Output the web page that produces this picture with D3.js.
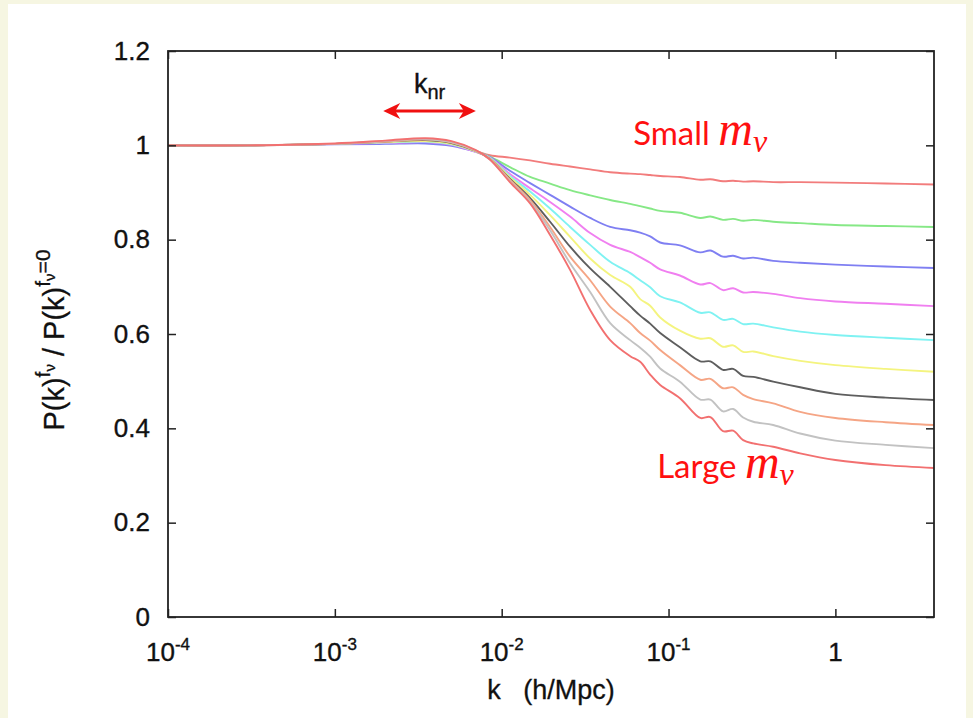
<!DOCTYPE html>
<html>
<head>
<meta charset="utf-8">
<script src="https://cdn.jsdelivr.net/npm/d3@7"></script>
<style>
  body { margin: 0; background: #f6f6e2; }
  svg { display: block; }
  .tick text { font-family: "Liberation Sans", Arial, sans-serif; }
</style>
</head>
<body>
<svg width="973" height="718"></svg>
<script>
// wavenumbers k (h/Mpc) where the curves were read
const kValues = [1e-4, 3e-4, 1e-3, 2e-3, 3.5e-3, 5e-3, 7e-3, 8.5e-3, 0.0112, 0.0148,
  0.0195, 0.0257, 0.0339, 0.0447, 0.0589, 0.0676, 0.0776, 0.0891, 0.117, 0.155,
  0.178, 0.212, 0.244, 0.28, 0.322, 0.424, 0.615, 1, 2, 3.9]

// ratio P(k)^fnu / P(k)^fnu=0, small m_nu first
const ratioRed1 = [1.000,1.000,1.003,1.005,1.006,1.002,0.988,0.979,0.974,0.968,0.961,0.955,0.949,0.943,0.940,0.939,0.937,0.935,0.933,0.927,0.928,0.924,0.925,0.923,0.924,0.922,0.922,0.921,0.919,0.917]
const ratioGreen = [1.000,1.000,1.003,1.005,1.006,1.001,0.987,0.976,0.954,0.933,0.919,0.905,0.894,0.884,0.876,0.871,0.866,0.861,0.857,0.846,0.849,0.842,0.844,0.840,0.842,0.838,0.835,0.831,0.829,0.827]
const ratioBlue = [1.000,1.000,1.002,1.003,1.004,0.999,0.986,0.975,0.946,0.920,0.895,0.870,0.846,0.827,0.820,0.815,0.807,0.794,0.788,0.773,0.777,0.764,0.766,0.760,0.762,0.755,0.751,0.747,0.743,0.740]
const ratioMagenta = [1.000,1.000,1.003,1.005,1.007,1.001,0.986,0.974,0.939,0.909,0.880,0.849,0.814,0.789,0.774,0.763,0.751,0.737,0.724,0.705,0.708,0.693,0.697,0.688,0.689,0.685,0.676,0.669,0.664,0.659]
const ratioCyan = [1.000,1.000,1.003,1.006,1.008,1.002,0.987,0.973,0.935,0.902,0.866,0.827,0.789,0.753,0.729,0.714,0.699,0.680,0.667,0.645,0.646,0.630,0.632,0.621,0.622,0.614,0.605,0.598,0.592,0.587]
const ratioYellow = [1.000,1.000,1.003,1.007,1.009,1.003,0.987,0.972,0.932,0.895,0.852,0.806,0.760,0.725,0.700,0.674,0.660,0.635,0.607,0.590,0.591,0.573,0.576,0.562,0.563,0.553,0.543,0.534,0.526,0.520]
const ratioBlack = [1.000,1.000,1.003,1.008,1.011,1.005,0.988,0.971,0.929,0.888,0.838,0.785,0.739,0.700,0.659,0.639,0.622,0.602,0.572,0.542,0.542,0.524,0.526,0.511,0.509,0.499,0.487,0.473,0.465,0.460]
const ratioSalmon = [1.000,1.000,1.003,1.008,1.012,1.006,0.988,0.971,0.927,0.884,0.827,0.764,0.714,0.658,0.623,0.602,0.586,0.566,0.534,0.503,0.505,0.485,0.487,0.471,0.462,0.453,0.435,0.422,0.413,0.407]
const ratioGray = [1.000,1.000,1.003,1.009,1.013,1.007,0.989,0.970,0.924,0.880,0.820,0.750,0.689,0.623,0.587,0.571,0.552,0.527,0.499,0.461,0.461,0.436,0.441,0.423,0.414,0.407,0.389,0.374,0.365,0.358]
const ratioRed2 = [1.000,1.000,1.004,1.010,1.015,1.009,0.990,0.970,0.922,0.877,0.810,0.736,0.651,0.587,0.553,0.541,0.514,0.492,0.464,0.422,0.424,0.394,0.395,0.375,0.368,0.361,0.347,0.333,0.322,0.316]

const seriesList = [ratioRed1, ratioGreen, ratioBlue, ratioMagenta, ratioCyan,
  ratioYellow, ratioBlack, ratioSalmon, ratioGray, ratioRed2]
const seriesColors = ["#f27c7c", "#86e886", "#7f7ff2", "#f07ff0", "#7ff2f2",
  "#f4f47f", "#5e5e5e", "#f5a585", "#c2c2c2", "#f27070"]

const xTicks = [1e-4, 1e-3, 1e-2, 1e-1, 1]
const xTickExp = ["-4", "-3", "-2", "-1", ""]
const yTicks = [0, 0.2, 0.4, 0.6, 0.8, 1, 1.2]

const svg = d3.select("svg")
const font = '"Liberation Sans", Arial, sans-serif'

svg.append("rect").attr("x", 0).attr("y", 0).attr("width", 973).attr("height", 718).attr("fill", "#f6f6e2")
svg.append("rect").attr("x", 8).attr("y", 4).attr("width", 958).attr("height", 714).attr("fill", "#fff")

const x = d3.scaleLog().domain([1e-4, 3.9]).range([168, 934])
const y = d3.scaleLinear().domain([0, 1.2]).range([617, 51])

// curves
const line = d3.line()
    .x((d, i) => x(kValues[i]))
    .y(d => y(d))
    .curve(d3.curveCatmullRom.alpha(0.5))

svg.append("g")
    .selectAll("path")
    .data(seriesList)
    .enter()
    .append("path")
    .attr("d", d => line(d))
    .attr("fill", "none")
    .attr("stroke", (d, i) => seriesColors[i])
    .attr("stroke-width", 1.9)

// frame and inward ticks
function styleAxis(g){
    g.select(".domain").remove()
    g.selectAll(".tick line").attr("stroke", "#222").attr("stroke-width", 1.5)
}

svg.append("g").attr("transform", "translate(0," + y(0) + ")")
    .call(d3.axisBottom(x).tickValues(xTicks).tickSize(-8).tickFormat(""))
    .call(styleAxis)
svg.append("g").attr("transform", "translate(0," + y(1.2) + ")")
    .call(d3.axisTop(x).tickValues(xTicks).tickSize(-8).tickFormat(""))
    .call(styleAxis)
svg.append("g").attr("transform", "translate(" + x(1e-4) + ",0)")
    .call(d3.axisLeft(y).tickValues(yTicks).tickSize(-8).tickPadding(18)
        .tickFormat(d => d === 0 || d === 1 ? String(d) : d.toFixed(1)))
    .call(styleAxis)
    .call(g => g.selectAll(".tick text").attr("font-size", 26).attr("fill", "#111")
        .attr("stroke", "#111").attr("stroke-width", 0.35))
svg.append("g").attr("transform", "translate(" + x(3.9) + ",0)")
    .call(d3.axisRight(y).tickValues(yTicks).tickSize(-8).tickFormat(""))
    .call(styleAxis)

svg.append("rect")
    .attr("x", x(1e-4)).attr("y", y(1.2))
    .attr("width", x(3.9) - x(1e-4)).attr("height", y(0) - y(1.2))
    .attr("fill", "none").attr("stroke", "#222").attr("stroke-width", 1.8)

// x tick labels with exponents
const xLab = svg.append("g")
    .selectAll("text")
    .data(xTicks)
    .enter()
    .append("text")
    .attr("x", d => x(d))
    .attr("y", 661)
    .attr("text-anchor", "middle")
    .attr("font-family", font)
    .attr("font-size", 26)
    .attr("fill", "#111")
    .attr("stroke", "#111").attr("stroke-width", 0.35)

xLab.append("tspan").text((d, i) => xTickExp[i] ? "10" : "1")
xLab.append("tspan")
    .attr("dy", -11)
    .attr("font-size", 17)
    .text((d, i) => xTickExp[i])

// axis titles
svg.append("text")
    .attr("x", 551).attr("y", 699)
    .attr("text-anchor", "middle")
    .attr("font-family", font).attr("font-size", 27).attr("fill", "#111")
    .attr("stroke", "#111").attr("stroke-width", 0.3)
    .attr("xml:space", "preserve")
    .text("k   (h/Mpc)")

const yTitle = svg.append("text")
    .attr("transform", "translate(64,340) rotate(-90)")
    .attr("text-anchor", "middle")
    .attr("font-family", font).attr("font-size", 29).attr("fill", "#111")
    .attr("stroke", "#111").attr("stroke-width", 0.3)
yTitle.append("tspan").text("P(k)")
yTitle.append("tspan").attr("dy", -14).attr("font-size", 21).text("f")
yTitle.append("tspan").attr("dy", 5).attr("font-size", 15).text("ν")
yTitle.append("tspan").attr("dy", 9).attr("xml:space", "preserve").text(" / P(k)")
yTitle.append("tspan").attr("dy", -14).attr("font-size", 21).text("f")
yTitle.append("tspan").attr("dy", 5).attr("font-size", 15).text("ν")
yTitle.append("tspan").attr("dy", -5).attr("font-size", 21).text("=0")

// k_nr annotation with double arrow
const arrowY = y(1.073)
const ax0 = x(1.95e-3), ax1 = x(7.0e-3)
svg.append("line")
    .attr("x1", ax0 + 10).attr("x2", ax1 - 10)
    .attr("y1", arrowY).attr("y2", arrowY)
    .attr("stroke", "#f01010").attr("stroke-width", 3)
svg.append("path")
    .attr("d", `M${ax0},${arrowY} L${ax0 + 17},${arrowY - 8} L${ax0 + 12},${arrowY} L${ax0 + 17},${arrowY + 8} Z`)
    .attr("fill", "#f01010")
svg.append("path")
    .attr("d", `M${ax1},${arrowY} L${ax1 - 17},${arrowY - 8} L${ax1 - 12},${arrowY} L${ax1 - 17},${arrowY + 8} Z`)
    .attr("fill", "#f01010")

const knr = svg.append("text")
    .attr("x", x(3.7e-3)).attr("y", y(1.11))
    .attr("text-anchor", "middle")
    .attr("font-family", font).attr("font-size", 27).attr("fill", "#111")
    .attr("stroke", "#111").attr("stroke-width", 0.35)
knr.append("tspan").text("k")
knr.append("tspan").attr("dy", 6).attr("font-size", 20).text("nr")

// small / large neutrino mass labels
function massLabel(word, k, v){
    const t = svg.append("text")
        .attr("x", x(k)).attr("y", y(v))
        .attr("fill", "#ff1010")
    t.append("tspan")
        .attr("font-family", "Lato, 'Open Sans', sans-serif")
        .attr("font-size", 33)
        .text(word + " ")
    t.append("tspan")
        .attr("font-family", "'Liberation Serif', 'DejaVu Serif', serif")
        .attr("font-style", "italic")
        .attr("font-size", 48)
        .text("m")
    t.append("tspan")
        .attr("font-family", "'Liberation Serif', 'DejaVu Serif', serif")
        .attr("font-style", "italic")
        .attr("font-size", 32)
        .attr("dy", 7)
        .text("ν")
}

massLabel("Small", 0.0614, 1.0)
massLabel("Large", 0.0855, 0.295)
</script>
</body>
</html>
